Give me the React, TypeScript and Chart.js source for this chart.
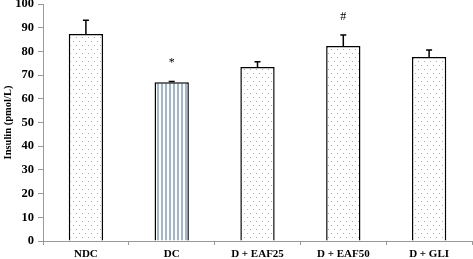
import React, { useEffect, useRef } from "react";
import { Chart, registerables } from "chart.js";

Chart.register(...registerables);

const categories = ["NDC", "DC", "D + EAF25", "D + EAF50", "D + GLI"];
const means = [87.3, 67.0, 73.4, 82.3, 77.6];
const errorsUp = [5.8, 0.3, 2.2, 4.6, 3.0];
const markers = ["", "*", "", "#", ""];
const markerValues = [0, 75.3, 0, 94.5, 0];
const yTicks = [0, 10, 20, 30, 40, 50, 60, 70, 80, 90, 100];

function dotPattern(): CanvasPattern | string {
  const c = document.createElement("canvas");
  c.width = 6;
  c.height = 8;
  const g = c.getContext("2d");
  if (!g) return "#fff";
  g.fillStyle = "#ffffff";
  g.fillRect(0, 0, 6, 8);
  g.fillStyle = "#9eaecb";
  g.fillRect(1, 1, 1, 1);
  g.fillRect(4, 5, 1, 1);
  return g.createPattern(c, "repeat") || "#fff";
}

function stripePattern(): CanvasPattern | string {
  const c = document.createElement("canvas");
  c.width = 4;
  c.height = 4;
  const g = c.getContext("2d");
  if (!g) return "#9fb6d6";
  g.fillStyle = "#ffffff";
  g.fillRect(0, 0, 4, 4);
  g.fillStyle = "#9fb6d6";
  g.fillRect(1, 0, 2, 4);
  return g.createPattern(c, "repeat") || "#9fb6d6";
}

const errorBarPlugin = {
  id: "errorBars",
  afterDatasetsDraw(chart: any) {
    const ctx = chart.ctx;
    const meta = chart.getDatasetMeta(0);
    const y = chart.scales.y;
    ctx.save();
    ctx.strokeStyle = "#000";
    ctx.lineWidth = 1.5;
    meta.data.forEach((bar: any, i: number) => {
      const x = bar.x;
      const top = y.getPixelForValue(means[i]);
      const end = y.getPixelForValue(means[i] + errorsUp[i]);
      ctx.beginPath();
      ctx.moveTo(x, top);
      ctx.lineTo(x, end);
      ctx.moveTo(x - 3, end);
      ctx.lineTo(x + 3, end);
      ctx.stroke();
      if (markers[i]) {
        ctx.fillStyle = "#000";
        ctx.font = "12px 'Liberation Serif'";
        ctx.textAlign = "center";
        ctx.textBaseline = "middle";
        ctx.fillText(markers[i], x, y.getPixelForValue(markerValues[i]));
      }
    });
    ctx.restore();
  },
};

export default function App() {
  const ref = useRef<HTMLCanvasElement>(null);
  useEffect(() => {
    if (!ref.current) return;
    const dots = dotPattern();
    const stripes = stripePattern();
    const chart = new Chart(ref.current, {
      type: "bar",
      data: {
        labels: categories,
        datasets: [
          {
            data: means,
            backgroundColor: categories.map((_, i) => (i === 1 ? stripes : dots)) as any,
            borderColor: "#000",
            borderWidth: 1.5,
            categoryPercentage: 1,
            barPercentage: 0.4,
          },
        ],
      },
      options: {
        animation: false,
        responsive: false,
        layout: { padding: { top: 4, right: 1, left: 0, bottom: 0 } },
        plugins: { legend: { display: false }, tooltip: { enabled: false } },
        scales: {
          x: {
            offset: true,
            grid: {
              display: true,
              offset: true,
              drawOnChartArea: false,
              drawTicks: true,
              tickLength: 4,
              color: "#999",
            },
            border: { color: "#999", width: 1 },
            ticks: {
              color: "#000",
              font: { family: "'Liberation Serif'", size: 11, weight: "bold" },
              padding: 3,
              maxRotation: 0,
            },
            afterFit(scale: any) {
              scale.height = 18;
              scale.paddingLeft = 0;
              scale.paddingRight = 0;
            },
          },
          y: {
            min: 0,
            max: 100,
            afterBuildTicks(scale: any) {
              scale.ticks = yTicks.map((v) => ({ value: v }));
            },
            grid: {
              display: true,
              drawOnChartArea: false,
              drawTicks: true,
              tickLength: 5,
              color: "#999",
            },
            border: { color: "#999", width: 1 },
            ticks: {
              color: "#000",
              font: { family: "'Liberation Serif'", size: 12.5, weight: "bold" },
              padding: 4,
            },
            title: {
              display: true,
              text: "Insulin (pmol/L)",
              color: "#000",
              font: { family: "'Liberation Serif'", size: 10.5, weight: "bold" },
              padding: { top: 2, bottom: 2 },
            },
            afterFit(scale: any) {
              scale.width = 43;
              scale.paddingTop = 0;
              scale.paddingBottom = 0;
            },
          },
        },
      },
      plugins: [errorBarPlugin],
    });
    return () => chart.destroy();
  }, []);
  return (
    <div style={{ position: "absolute", left: 0, top: 0, width: 473, height: 259, background: "#fff" }}>
      <canvas ref={ref} width={473} height={259} style={{ display: "block" }} />
    </div>
  );
}
